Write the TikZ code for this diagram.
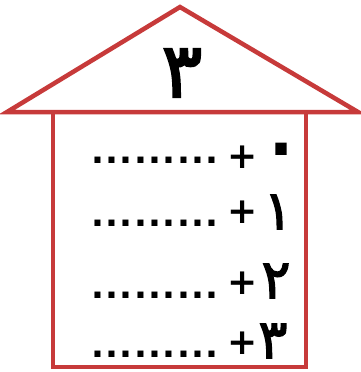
\documentclass[tikz,border=0pt]{standalone}
\usepackage{fontspec}
\newfontfamily\digitfont[Script=Arabic,FakeBold=2.5]{DejaVu Sans}
\newfontfamily\plainfont{DejaVu Sans Bold}
\newfontfamily\dotfont{DejaVu Sans Bold}
\definecolor{houseRed}{HTML}{C73A3A}
\newcommand{\dk}{\kern1.4pt}
\newcommand{\dotrow}{.\dk.\dk.\dk.\dk.\dk.\dk.\dk.\dk.}
\begin{document}
\begin{tikzpicture}[x=1pt,y=-1pt,
  wall/.style={draw=houseRed,line width=4.5pt,line join=miter},
  digit/.style={inner sep=0pt,font=\digitfont\fontsize{54}{54}\selectfont},
  plussign/.style={inner sep=0pt,font=\plainfont\fontsize{36}{36}\selectfont},
  dotsrow/.style={inner sep=0pt,font=\dotfont\fontsize{34}{34}\selectfont}]
\useasboundingbox (0,0) rectangle (361,372);
\coordinate (roofL) at (7,112);
\coordinate (apex) at (180,7);
\coordinate (roofR) at (358,112);
\draw[wall] (roofL) -- (apex) -- (roofR) -- cycle;
\draw[wall] (53,112) rectangle (306,367);
\node[inner sep=0pt,font=\digitfont\fontsize{76}{76}\selectfont] (top) at (182,73) {٣};
% rows
\node[dotsrow] (dots0) at (155,160) {\dotrow};
\node[plussign] (plus0) at (243,157) {+};
\node[inner sep=0pt,font=\digitfont\fontsize{84}{84}\selectfont] (d0) at (281,158) {٠};
\node[dotsrow] (dots1) at (155,223) {\dotrow};
\node[plussign] (plus1) at (243,212) {+};
\node[digit] (d1) at (278,212) {١};
\node[dotsrow] (dots2) at (155,295) {\dotrow};
\node[plussign] (plus2) at (243,283) {+};
\node[digit] (d2) at (276,281) {٢};
\node[dotsrow] (dots3) at (155,354) {\dotrow};
\node[plussign] (plus3) at (243,343) {+};
\node[digit] (d3) at (273,341) {٣};
\end{tikzpicture}
\end{document}
